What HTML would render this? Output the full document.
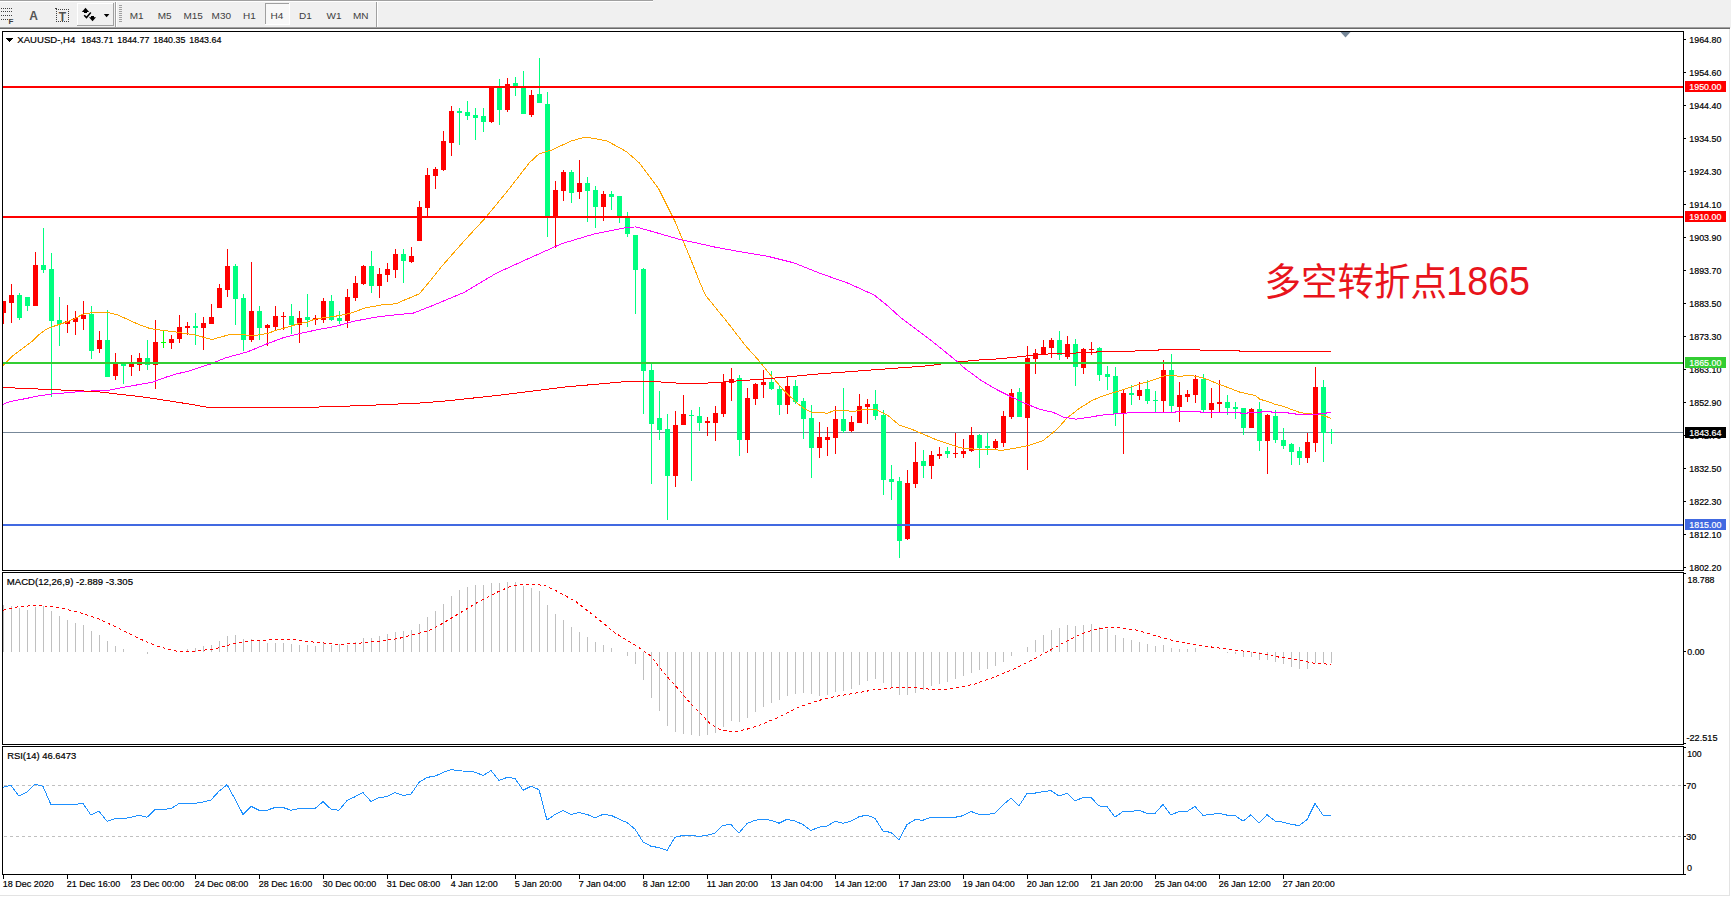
<!DOCTYPE html>
<html><head><meta charset="utf-8"><title>XAUUSD,H4</title>
<style>
html,body{margin:0;padding:0;background:#fff;}
body{width:1731px;height:897px;overflow:hidden;}
svg{display:block;}
text{font-family:'Liberation Sans', 'DejaVu Sans', sans-serif;}
</style></head>
<body>
<svg width="1731" height="897" viewBox="0 0 1731 897">
<rect x="0" y="0" width="1731" height="28" fill="#f0f0f0"/>
<rect x="0" y="0" width="653" height="1" fill="#a0a0a0"/>
<rect x="0" y="1" width="653" height="1" fill="#ffffff"/>
<rect x="0" y="27" width="1730" height="1" fill="#a0a0a0"/>
<rect x="0" y="28" width="1730" height="1" fill="#696969"/>
<rect x="1" y="8" width="1" height="1" fill="#404040"/>
<rect x="3" y="8" width="1" height="1" fill="#404040"/>
<rect x="5" y="8" width="1" height="1" fill="#404040"/>
<rect x="7" y="8" width="1" height="1" fill="#404040"/>
<rect x="9" y="8" width="1" height="1" fill="#404040"/>
<rect x="11" y="8" width="1" height="1" fill="#404040"/>
<rect x="1" y="11" width="1" height="1" fill="#404040"/>
<rect x="3" y="11" width="1" height="1" fill="#404040"/>
<rect x="5" y="11" width="1" height="1" fill="#404040"/>
<rect x="7" y="11" width="1" height="1" fill="#404040"/>
<rect x="9" y="11" width="1" height="1" fill="#404040"/>
<rect x="11" y="11" width="1" height="1" fill="#404040"/>
<rect x="1" y="15" width="1" height="1" fill="#404040"/>
<rect x="3" y="15" width="1" height="1" fill="#404040"/>
<rect x="5" y="15" width="1" height="1" fill="#404040"/>
<rect x="7" y="15" width="1" height="1" fill="#404040"/>
<rect x="9" y="15" width="1" height="1" fill="#404040"/>
<rect x="11" y="15" width="1" height="1" fill="#404040"/>
<rect x="1" y="19" width="1" height="1" fill="#404040"/>
<rect x="3" y="19" width="1" height="1" fill="#404040"/>
<rect x="5" y="19" width="1" height="1" fill="#404040"/>
<rect x="7" y="19" width="1" height="1" fill="#404040"/>
<text x="8.5" y="23.5" font-size="8" fill="#404040" text-anchor="start" font-weight="bold">F</text>
<text x="33.7" y="19.6" font-size="12" fill="#555555" text-anchor="middle" font-weight="bold">A</text>
<rect x="56" y="9" width="1" height="1" fill="#404040"/>
<rect x="56" y="21" width="1" height="1" fill="#404040"/>
<rect x="58" y="9" width="1" height="1" fill="#404040"/>
<rect x="58" y="21" width="1" height="1" fill="#404040"/>
<rect x="60" y="9" width="1" height="1" fill="#404040"/>
<rect x="60" y="21" width="1" height="1" fill="#404040"/>
<rect x="62" y="9" width="1" height="1" fill="#404040"/>
<rect x="62" y="21" width="1" height="1" fill="#404040"/>
<rect x="64" y="9" width="1" height="1" fill="#404040"/>
<rect x="64" y="21" width="1" height="1" fill="#404040"/>
<rect x="66" y="9" width="1" height="1" fill="#404040"/>
<rect x="66" y="21" width="1" height="1" fill="#404040"/>
<rect x="68" y="9" width="1" height="1" fill="#404040"/>
<rect x="68" y="21" width="1" height="1" fill="#404040"/>
<rect x="56" y="9" width="1" height="1" fill="#404040"/>
<rect x="68" y="9" width="1" height="1" fill="#404040"/>
<rect x="56" y="11" width="1" height="1" fill="#404040"/>
<rect x="68" y="11" width="1" height="1" fill="#404040"/>
<rect x="56" y="13" width="1" height="1" fill="#404040"/>
<rect x="68" y="13" width="1" height="1" fill="#404040"/>
<rect x="56" y="15" width="1" height="1" fill="#404040"/>
<rect x="68" y="15" width="1" height="1" fill="#404040"/>
<rect x="56" y="17" width="1" height="1" fill="#404040"/>
<rect x="68" y="17" width="1" height="1" fill="#404040"/>
<rect x="56" y="19" width="1" height="1" fill="#404040"/>
<rect x="68" y="19" width="1" height="1" fill="#404040"/>
<rect x="55" y="8" width="2" height="1" fill="#404040"/>
<text x="62.3" y="20.5" font-size="12" fill="#505050" text-anchor="middle" font-weight="bold">T</text>
<rect x="77" y="3" width="37" height="23" fill="#f0f0f0"/>
<rect x="77" y="3" width="36" height="1" fill="#ffffff"/>
<rect x="77" y="3" width="1" height="22" fill="#ffffff"/>
<rect x="77" y="25" width="37" height="1" fill="#a0a0a0"/>
<rect x="113" y="3" width="1" height="23" fill="#a0a0a0"/>
<path d="M81.8,12 L85.5,7.8 L89.2,12 Z" fill="#000"/>
<rect x="84" y="11" width="3" height="2" fill="#000"/>
<path d="M89,17.2 L96,17.2 L92.5,21.2 Z" fill="#000"/>
<rect x="91" y="16" width="3" height="2" fill="#000"/>
<path d="M84.2,15.2 L86.5,17.6 L90.8,12.4" fill="none" stroke="#000" stroke-width="1.5"/>
<path d="M103.8,14 L109.4,14 L106.6,17.2 Z" fill="#000"/>
<rect x="115" y="2" width="1" height="25" fill="#a0a0a0"/>
<rect x="116" y="2" width="1" height="25" fill="#ffffff"/>
<rect x="119" y="5" width="3" height="1" fill="#a0a0a0"/>
<rect x="119" y="7" width="3" height="1" fill="#a0a0a0"/>
<rect x="119" y="9" width="3" height="1" fill="#a0a0a0"/>
<rect x="119" y="11" width="3" height="1" fill="#a0a0a0"/>
<rect x="119" y="13" width="3" height="1" fill="#a0a0a0"/>
<rect x="119" y="15" width="3" height="1" fill="#a0a0a0"/>
<rect x="119" y="17" width="3" height="1" fill="#a0a0a0"/>
<rect x="119" y="19" width="3" height="1" fill="#a0a0a0"/>
<rect x="119" y="21" width="3" height="1" fill="#a0a0a0"/>
<rect x="376" y="2" width="1" height="25" fill="#a0a0a0"/>
<rect x="377" y="2" width="1" height="25" fill="#ffffff"/>
<rect x="265" y="3" width="25" height="22" fill="#f8f8f8"/>
<rect x="265" y="3" width="25" height="1" fill="#a0a0a0"/>
<rect x="265" y="3" width="1" height="22" fill="#a0a0a0"/>
<rect x="265" y="24" width="25" height="1" fill="#ffffff"/>
<rect x="289" y="3" width="1" height="22" fill="#ffffff"/>
<text x="136.70" y="19.3" font-size="9.5" fill="#404040" text-anchor="middle" textLength="13.89" lengthAdjust="spacingAndGlyphs">M1</text>
<text x="164.60" y="19.3" font-size="9.5" fill="#404040" text-anchor="middle" textLength="13.89" lengthAdjust="spacingAndGlyphs">M5</text>
<text x="193.20" y="19.3" font-size="9.5" fill="#404040" text-anchor="middle" textLength="19.45" lengthAdjust="spacingAndGlyphs">M15</text>
<text x="221.30" y="19.3" font-size="9.5" fill="#404040" text-anchor="middle" textLength="19.45" lengthAdjust="spacingAndGlyphs">M30</text>
<text x="249.40" y="19.3" font-size="9.5" fill="#404040" text-anchor="middle" textLength="12.78" lengthAdjust="spacingAndGlyphs">H1</text>
<text x="276.90" y="19.3" font-size="9.5" fill="#404040" text-anchor="middle" textLength="12.78" lengthAdjust="spacingAndGlyphs">H4</text>
<text x="305.40" y="19.3" font-size="9.5" fill="#404040" text-anchor="middle" textLength="12.78" lengthAdjust="spacingAndGlyphs">D1</text>
<text x="334.00" y="19.3" font-size="9.5" fill="#404040" text-anchor="middle" textLength="15.00" lengthAdjust="spacingAndGlyphs">W1</text>
<text x="360.80" y="19.3" font-size="9.5" fill="#404040" text-anchor="middle" textLength="15.55" lengthAdjust="spacingAndGlyphs">MN</text>
<rect x="0" y="29" width="1731" height="868" fill="#ffffff"/>
<rect x="1729" y="29" width="1" height="867" fill="#e3e3e3"/>
<rect x="0" y="895" width="1730" height="1" fill="#e3e3e3"/>
<rect x="2" y="31" width="1682" height="1" fill="#000"/>
<rect x="2" y="570" width="1682" height="1" fill="#000"/>
<rect x="2" y="31" width="1" height="540" fill="#000"/>
<rect x="1683" y="31" width="1" height="540" fill="#000"/>
<rect x="2" y="572" width="1682" height="1" fill="#000"/>
<rect x="2" y="744" width="1682" height="1" fill="#000"/>
<rect x="2" y="572" width="1" height="173" fill="#000"/>
<rect x="1683" y="572" width="1" height="173" fill="#000"/>
<rect x="2" y="746" width="1682" height="1" fill="#000"/>
<rect x="2" y="874" width="1682" height="1" fill="#000"/>
<rect x="2" y="746" width="1" height="129" fill="#000"/>
<rect x="1683" y="746" width="1" height="129" fill="#000"/>
<defs><clipPath id="cm"><rect x="3" y="32" width="1680" height="538"/></clipPath><clipPath id="cd"><rect x="3" y="573" width="1680" height="171"/></clipPath><clipPath id="cr"><rect x="3" y="747" width="1680" height="127"/></clipPath></defs>
<g clip-path="url(#cm)">
<rect x="3" y="432" width="1680" height="1" fill="#778899"/>
<g shape-rendering="crispEdges">
<rect x="3" y="301" width="1" height="23" fill="#ff0000"/>
<rect x="1" y="301" width="5" height="12" fill="#ff0000"/>
<rect x="11" y="284" width="1" height="39" fill="#ff0000"/>
<rect x="9" y="295" width="5" height="8" fill="#ff0000"/>
<rect x="19" y="293" width="1" height="27" fill="#00ff7f"/>
<rect x="17" y="295" width="5" height="23" fill="#00ff7f"/>
<rect x="27" y="297" width="1" height="14" fill="#00ff7f"/>
<rect x="25" y="297" width="5" height="9" fill="#00ff7f"/>
<rect x="35" y="252" width="1" height="54" fill="#ff0000"/>
<rect x="33" y="265" width="5" height="41" fill="#ff0000"/>
<rect x="43" y="228" width="1" height="45" fill="#00ff7f"/>
<rect x="41" y="265" width="5" height="5" fill="#00ff7f"/>
<rect x="51" y="253" width="1" height="144" fill="#00ff7f"/>
<rect x="49" y="269" width="5" height="52" fill="#00ff7f"/>
<rect x="59" y="297" width="1" height="49" fill="#00ff7f"/>
<rect x="57" y="320" width="5" height="4" fill="#00ff7f"/>
<rect x="67" y="305" width="1" height="28" fill="#ff0000"/>
<rect x="65" y="321" width="5" height="3" fill="#ff0000"/>
<rect x="75" y="311" width="1" height="24" fill="#ff0000"/>
<rect x="73" y="318" width="5" height="4" fill="#ff0000"/>
<rect x="83" y="301" width="1" height="29" fill="#ff0000"/>
<rect x="81" y="315" width="5" height="4" fill="#ff0000"/>
<rect x="91" y="306" width="1" height="53" fill="#00ff7f"/>
<rect x="89" y="314" width="5" height="37" fill="#00ff7f"/>
<rect x="99" y="331" width="1" height="22" fill="#ff0000"/>
<rect x="97" y="340" width="5" height="9" fill="#ff0000"/>
<rect x="107" y="310" width="1" height="67" fill="#00ff7f"/>
<rect x="105" y="340" width="5" height="37" fill="#00ff7f"/>
<rect x="115" y="353" width="1" height="27" fill="#ff0000"/>
<rect x="113" y="364" width="5" height="12" fill="#ff0000"/>
<rect x="123" y="363" width="1" height="21" fill="#00ff7f"/>
<rect x="121" y="364" width="5" height="2" fill="#00ff7f"/>
<rect x="131" y="355" width="1" height="21" fill="#ff0000"/>
<rect x="129" y="364" width="5" height="3" fill="#ff0000"/>
<rect x="139" y="353" width="1" height="18" fill="#ff0000"/>
<rect x="137" y="358" width="5" height="7" fill="#ff0000"/>
<rect x="147" y="340" width="1" height="30" fill="#00ff7f"/>
<rect x="145" y="358" width="5" height="7" fill="#00ff7f"/>
<rect x="155" y="320" width="1" height="69" fill="#ff0000"/>
<rect x="153" y="342" width="5" height="23" fill="#ff0000"/>
<rect x="163" y="330" width="1" height="18" fill="#00ff00"/>
<rect x="161" y="342" width="5" height="1" fill="#00ff00"/>
<rect x="171" y="335" width="1" height="14" fill="#ff0000"/>
<rect x="169" y="339" width="5" height="4" fill="#ff0000"/>
<rect x="179" y="315" width="1" height="28" fill="#ff0000"/>
<rect x="177" y="327" width="5" height="12" fill="#ff0000"/>
<rect x="187" y="322" width="1" height="13" fill="#ff0000"/>
<rect x="185" y="326" width="5" height="2" fill="#ff0000"/>
<rect x="195" y="313" width="1" height="32" fill="#00ff7f"/>
<rect x="193" y="326" width="5" height="2" fill="#00ff7f"/>
<rect x="203" y="317" width="1" height="33" fill="#ff0000"/>
<rect x="201" y="323" width="5" height="5" fill="#ff0000"/>
<rect x="211" y="304" width="1" height="20" fill="#ff0000"/>
<rect x="209" y="317" width="5" height="7" fill="#ff0000"/>
<rect x="219" y="284" width="1" height="24" fill="#ff0000"/>
<rect x="217" y="288" width="5" height="20" fill="#ff0000"/>
<rect x="227" y="249" width="1" height="48" fill="#ff0000"/>
<rect x="225" y="266" width="5" height="24" fill="#ff0000"/>
<rect x="235" y="264" width="1" height="61" fill="#00ff7f"/>
<rect x="233" y="266" width="5" height="33" fill="#00ff7f"/>
<rect x="243" y="294" width="1" height="57" fill="#00ff7f"/>
<rect x="241" y="298" width="5" height="42" fill="#00ff7f"/>
<rect x="251" y="262" width="1" height="80" fill="#ff0000"/>
<rect x="249" y="311" width="5" height="29" fill="#ff0000"/>
<rect x="259" y="306" width="1" height="34" fill="#00ff7f"/>
<rect x="257" y="311" width="5" height="17" fill="#00ff7f"/>
<rect x="267" y="324" width="1" height="22" fill="#ff0000"/>
<rect x="265" y="325" width="5" height="3" fill="#ff0000"/>
<rect x="275" y="306" width="1" height="24" fill="#ff0000"/>
<rect x="273" y="316" width="5" height="11" fill="#ff0000"/>
<rect x="283" y="312" width="1" height="18" fill="#ff0000"/>
<rect x="281" y="316" width="5" height="1" fill="#ff0000"/>
<rect x="291" y="304" width="1" height="30" fill="#00ff7f"/>
<rect x="289" y="316" width="5" height="9" fill="#00ff7f"/>
<rect x="299" y="311" width="1" height="32" fill="#ff0000"/>
<rect x="297" y="318" width="5" height="7" fill="#ff0000"/>
<rect x="307" y="294" width="1" height="33" fill="#00ff7f"/>
<rect x="305" y="317" width="5" height="3" fill="#00ff7f"/>
<rect x="315" y="315" width="1" height="10" fill="#ff0000"/>
<rect x="313" y="318" width="5" height="2" fill="#ff0000"/>
<rect x="323" y="298" width="1" height="25" fill="#ff0000"/>
<rect x="321" y="301" width="5" height="19" fill="#ff0000"/>
<rect x="331" y="295" width="1" height="26" fill="#00ff7f"/>
<rect x="329" y="301" width="5" height="19" fill="#00ff7f"/>
<rect x="339" y="311" width="1" height="13" fill="#00ff7f"/>
<rect x="337" y="318" width="5" height="3" fill="#00ff7f"/>
<rect x="347" y="289" width="1" height="39" fill="#ff0000"/>
<rect x="345" y="297" width="5" height="24" fill="#ff0000"/>
<rect x="355" y="276" width="1" height="25" fill="#ff0000"/>
<rect x="353" y="283" width="5" height="15" fill="#ff0000"/>
<rect x="363" y="265" width="1" height="20" fill="#ff0000"/>
<rect x="361" y="266" width="5" height="18" fill="#ff0000"/>
<rect x="371" y="251" width="1" height="42" fill="#00ff7f"/>
<rect x="369" y="266" width="5" height="20" fill="#00ff7f"/>
<rect x="379" y="268" width="1" height="30" fill="#ff0000"/>
<rect x="377" y="274" width="5" height="12" fill="#ff0000"/>
<rect x="387" y="263" width="1" height="19" fill="#ff0000"/>
<rect x="385" y="269" width="5" height="6" fill="#ff0000"/>
<rect x="395" y="249" width="1" height="29" fill="#ff0000"/>
<rect x="393" y="254" width="5" height="16" fill="#ff0000"/>
<rect x="403" y="249" width="1" height="34" fill="#00ff7f"/>
<rect x="401" y="254" width="5" height="7" fill="#00ff7f"/>
<rect x="411" y="247" width="1" height="16" fill="#ff0000"/>
<rect x="409" y="256" width="5" height="6" fill="#ff0000"/>
<rect x="419" y="201" width="1" height="40" fill="#ff0000"/>
<rect x="417" y="207" width="5" height="34" fill="#ff0000"/>
<rect x="427" y="168" width="1" height="50" fill="#ff0000"/>
<rect x="425" y="175" width="5" height="33" fill="#ff0000"/>
<rect x="435" y="167" width="1" height="22" fill="#ff0000"/>
<rect x="433" y="169" width="5" height="7" fill="#ff0000"/>
<rect x="443" y="131" width="1" height="40" fill="#ff0000"/>
<rect x="441" y="141" width="5" height="29" fill="#ff0000"/>
<rect x="451" y="106" width="1" height="50" fill="#ff0000"/>
<rect x="449" y="111" width="5" height="32" fill="#ff0000"/>
<rect x="459" y="108" width="1" height="37" fill="#00ff7f"/>
<rect x="457" y="111" width="5" height="2" fill="#00ff7f"/>
<rect x="467" y="101" width="1" height="19" fill="#00ff7f"/>
<rect x="465" y="112" width="5" height="4" fill="#00ff7f"/>
<rect x="475" y="108" width="1" height="32" fill="#00ff7f"/>
<rect x="473" y="115" width="5" height="3" fill="#00ff7f"/>
<rect x="483" y="108" width="1" height="24" fill="#00ff7f"/>
<rect x="481" y="116" width="5" height="6" fill="#00ff7f"/>
<rect x="491" y="86" width="1" height="37" fill="#ff0000"/>
<rect x="489" y="86" width="5" height="36" fill="#ff0000"/>
<rect x="499" y="79" width="1" height="46" fill="#00ff7f"/>
<rect x="497" y="88" width="5" height="22" fill="#00ff7f"/>
<rect x="507" y="78" width="1" height="34" fill="#ff0000"/>
<rect x="505" y="84" width="5" height="26" fill="#ff0000"/>
<rect x="515" y="77" width="1" height="19" fill="#00ff7f"/>
<rect x="513" y="83" width="5" height="3" fill="#00ff7f"/>
<rect x="523" y="71" width="1" height="43" fill="#00ff7f"/>
<rect x="521" y="86" width="5" height="28" fill="#00ff7f"/>
<rect x="531" y="90" width="1" height="27" fill="#ff0000"/>
<rect x="529" y="95" width="5" height="20" fill="#ff0000"/>
<rect x="539" y="58" width="1" height="45" fill="#00ff7f"/>
<rect x="537" y="94" width="5" height="9" fill="#00ff7f"/>
<rect x="547" y="92" width="1" height="145" fill="#00ff7f"/>
<rect x="545" y="104" width="5" height="114" fill="#00ff7f"/>
<rect x="555" y="181" width="1" height="67" fill="#ff0000"/>
<rect x="553" y="190" width="5" height="28" fill="#ff0000"/>
<rect x="563" y="170" width="1" height="31" fill="#ff0000"/>
<rect x="561" y="172" width="5" height="19" fill="#ff0000"/>
<rect x="571" y="170" width="1" height="33" fill="#00ff7f"/>
<rect x="569" y="172" width="5" height="21" fill="#00ff7f"/>
<rect x="579" y="160" width="1" height="39" fill="#ff0000"/>
<rect x="577" y="183" width="5" height="9" fill="#ff0000"/>
<rect x="587" y="177" width="1" height="45" fill="#00ff7f"/>
<rect x="585" y="183" width="5" height="8" fill="#00ff7f"/>
<rect x="595" y="186" width="1" height="42" fill="#00ff7f"/>
<rect x="593" y="190" width="5" height="17" fill="#00ff7f"/>
<rect x="603" y="191" width="1" height="30" fill="#ff0000"/>
<rect x="601" y="194" width="5" height="13" fill="#ff0000"/>
<rect x="611" y="191" width="1" height="19" fill="#00ff7f"/>
<rect x="609" y="194" width="5" height="3" fill="#00ff7f"/>
<rect x="619" y="196" width="1" height="27" fill="#00ff7f"/>
<rect x="617" y="196" width="5" height="20" fill="#00ff7f"/>
<rect x="627" y="212" width="1" height="25" fill="#00ff7f"/>
<rect x="625" y="218" width="5" height="16" fill="#00ff7f"/>
<rect x="635" y="235" width="1" height="79" fill="#00ff7f"/>
<rect x="633" y="235" width="5" height="35" fill="#00ff7f"/>
<rect x="643" y="268" width="1" height="146" fill="#00ff7f"/>
<rect x="641" y="269" width="5" height="102" fill="#00ff7f"/>
<rect x="651" y="364" width="1" height="120" fill="#00ff7f"/>
<rect x="649" y="370" width="5" height="54" fill="#00ff7f"/>
<rect x="659" y="391" width="1" height="49" fill="#00ff7f"/>
<rect x="657" y="418" width="5" height="12" fill="#00ff7f"/>
<rect x="667" y="414" width="1" height="106" fill="#00ff7f"/>
<rect x="665" y="429" width="5" height="47" fill="#00ff7f"/>
<rect x="675" y="411" width="1" height="76" fill="#ff0000"/>
<rect x="673" y="425" width="5" height="51" fill="#ff0000"/>
<rect x="683" y="395" width="1" height="30" fill="#ff0000"/>
<rect x="681" y="414" width="5" height="11" fill="#ff0000"/>
<rect x="691" y="410" width="1" height="71" fill="#00ff7f"/>
<rect x="689" y="415" width="5" height="1" fill="#00ff7f"/>
<rect x="699" y="407" width="1" height="24" fill="#00ff7f"/>
<rect x="697" y="416" width="5" height="7" fill="#00ff7f"/>
<rect x="707" y="417" width="1" height="19" fill="#ff0000"/>
<rect x="705" y="421" width="5" height="2" fill="#ff0000"/>
<rect x="715" y="406" width="1" height="35" fill="#ff0000"/>
<rect x="713" y="413" width="5" height="10" fill="#ff0000"/>
<rect x="723" y="374" width="1" height="43" fill="#ff0000"/>
<rect x="721" y="382" width="5" height="32" fill="#ff0000"/>
<rect x="731" y="368" width="1" height="33" fill="#ff0000"/>
<rect x="729" y="379" width="5" height="4" fill="#ff0000"/>
<rect x="739" y="375" width="1" height="81" fill="#00ff7f"/>
<rect x="737" y="378" width="5" height="62" fill="#00ff7f"/>
<rect x="747" y="388" width="1" height="65" fill="#ff0000"/>
<rect x="745" y="398" width="5" height="42" fill="#ff0000"/>
<rect x="755" y="383" width="1" height="22" fill="#ff0000"/>
<rect x="753" y="384" width="5" height="15" fill="#ff0000"/>
<rect x="763" y="370" width="1" height="28" fill="#ff0000"/>
<rect x="761" y="382" width="5" height="3" fill="#ff0000"/>
<rect x="771" y="371" width="1" height="19" fill="#00ff7f"/>
<rect x="769" y="382" width="5" height="7" fill="#00ff7f"/>
<rect x="779" y="386" width="1" height="29" fill="#00ff7f"/>
<rect x="777" y="389" width="5" height="16" fill="#00ff7f"/>
<rect x="787" y="376" width="1" height="38" fill="#ff0000"/>
<rect x="785" y="386" width="5" height="19" fill="#ff0000"/>
<rect x="795" y="380" width="1" height="24" fill="#00ff7f"/>
<rect x="793" y="386" width="5" height="16" fill="#00ff7f"/>
<rect x="803" y="398" width="1" height="41" fill="#00ff7f"/>
<rect x="801" y="401" width="5" height="18" fill="#00ff7f"/>
<rect x="811" y="405" width="1" height="73" fill="#00ff7f"/>
<rect x="809" y="418" width="5" height="30" fill="#00ff7f"/>
<rect x="819" y="422" width="1" height="36" fill="#ff0000"/>
<rect x="817" y="437" width="5" height="11" fill="#ff0000"/>
<rect x="827" y="427" width="1" height="29" fill="#ff0000"/>
<rect x="825" y="437" width="5" height="3" fill="#ff0000"/>
<rect x="835" y="406" width="1" height="48" fill="#ff0000"/>
<rect x="833" y="419" width="5" height="19" fill="#ff0000"/>
<rect x="843" y="388" width="1" height="45" fill="#00ff7f"/>
<rect x="841" y="419" width="5" height="12" fill="#00ff7f"/>
<rect x="851" y="416" width="1" height="16" fill="#ff0000"/>
<rect x="849" y="422" width="5" height="9" fill="#ff0000"/>
<rect x="859" y="394" width="1" height="29" fill="#ff0000"/>
<rect x="857" y="406" width="5" height="17" fill="#ff0000"/>
<rect x="867" y="399" width="1" height="25" fill="#ff0000"/>
<rect x="865" y="404" width="5" height="3" fill="#ff0000"/>
<rect x="875" y="390" width="1" height="30" fill="#00ff7f"/>
<rect x="873" y="404" width="5" height="12" fill="#00ff7f"/>
<rect x="883" y="410" width="1" height="85" fill="#00ff7f"/>
<rect x="881" y="415" width="5" height="65" fill="#00ff7f"/>
<rect x="891" y="465" width="1" height="35" fill="#00ff7f"/>
<rect x="889" y="479" width="5" height="3" fill="#00ff7f"/>
<rect x="899" y="477" width="1" height="81" fill="#00ff7f"/>
<rect x="897" y="481" width="5" height="60" fill="#00ff7f"/>
<rect x="907" y="470" width="1" height="70" fill="#ff0000"/>
<rect x="905" y="483" width="5" height="56" fill="#ff0000"/>
<rect x="915" y="442" width="1" height="46" fill="#ff0000"/>
<rect x="913" y="462" width="5" height="22" fill="#ff0000"/>
<rect x="923" y="450" width="1" height="28" fill="#00ff7f"/>
<rect x="921" y="461" width="5" height="5" fill="#00ff7f"/>
<rect x="931" y="451" width="1" height="28" fill="#ff0000"/>
<rect x="929" y="455" width="5" height="11" fill="#ff0000"/>
<rect x="939" y="447" width="1" height="12" fill="#ff0000"/>
<rect x="937" y="454" width="5" height="2" fill="#ff0000"/>
<rect x="947" y="447" width="1" height="11" fill="#00ff7f"/>
<rect x="945" y="451" width="5" height="3" fill="#00ff7f"/>
<rect x="955" y="433" width="1" height="25" fill="#ff0000"/>
<rect x="953" y="453" width="5" height="1" fill="#ff0000"/>
<rect x="963" y="439" width="1" height="19" fill="#ff0000"/>
<rect x="961" y="451" width="5" height="3" fill="#ff0000"/>
<rect x="971" y="427" width="1" height="25" fill="#ff0000"/>
<rect x="969" y="435" width="5" height="16" fill="#ff0000"/>
<rect x="979" y="434" width="1" height="34" fill="#00ff7f"/>
<rect x="977" y="435" width="5" height="13" fill="#00ff7f"/>
<rect x="987" y="433" width="1" height="22" fill="#00ff7f"/>
<rect x="985" y="446" width="5" height="2" fill="#00ff7f"/>
<rect x="995" y="439" width="1" height="11" fill="#ff0000"/>
<rect x="993" y="441" width="5" height="7" fill="#ff0000"/>
<rect x="1003" y="411" width="1" height="36" fill="#ff0000"/>
<rect x="1001" y="416" width="5" height="27" fill="#ff0000"/>
<rect x="1011" y="389" width="1" height="30" fill="#ff0000"/>
<rect x="1009" y="393" width="5" height="24" fill="#ff0000"/>
<rect x="1019" y="388" width="1" height="29" fill="#00ff7f"/>
<rect x="1017" y="392" width="5" height="25" fill="#00ff7f"/>
<rect x="1027" y="346" width="1" height="124" fill="#ff0000"/>
<rect x="1025" y="358" width="5" height="60" fill="#ff0000"/>
<rect x="1035" y="349" width="1" height="25" fill="#ff0000"/>
<rect x="1033" y="353" width="5" height="6" fill="#ff0000"/>
<rect x="1043" y="340" width="1" height="15" fill="#ff0000"/>
<rect x="1041" y="347" width="5" height="8" fill="#ff0000"/>
<rect x="1051" y="338" width="1" height="20" fill="#ff0000"/>
<rect x="1049" y="340" width="5" height="8" fill="#ff0000"/>
<rect x="1059" y="331" width="1" height="29" fill="#00ff7f"/>
<rect x="1057" y="340" width="5" height="15" fill="#00ff7f"/>
<rect x="1067" y="336" width="1" height="23" fill="#ff0000"/>
<rect x="1065" y="344" width="5" height="13" fill="#ff0000"/>
<rect x="1075" y="339" width="1" height="47" fill="#00ff7f"/>
<rect x="1073" y="344" width="5" height="23" fill="#00ff7f"/>
<rect x="1083" y="348" width="1" height="26" fill="#ff0000"/>
<rect x="1081" y="349" width="5" height="19" fill="#ff0000"/>
<rect x="1091" y="342" width="1" height="13" fill="#ff0000"/>
<rect x="1089" y="349" width="5" height="1" fill="#ff0000"/>
<rect x="1099" y="347" width="1" height="34" fill="#00ff7f"/>
<rect x="1097" y="348" width="5" height="27" fill="#00ff7f"/>
<rect x="1107" y="366" width="1" height="24" fill="#00ff7f"/>
<rect x="1105" y="374" width="5" height="3" fill="#00ff7f"/>
<rect x="1115" y="367" width="1" height="59" fill="#00ff7f"/>
<rect x="1113" y="376" width="5" height="38" fill="#00ff7f"/>
<rect x="1123" y="390" width="1" height="64" fill="#ff0000"/>
<rect x="1121" y="393" width="5" height="20" fill="#ff0000"/>
<rect x="1131" y="385" width="1" height="20" fill="#00ff7f"/>
<rect x="1129" y="393" width="5" height="2" fill="#00ff7f"/>
<rect x="1139" y="382" width="1" height="18" fill="#ff0000"/>
<rect x="1137" y="390" width="5" height="6" fill="#ff0000"/>
<rect x="1147" y="380" width="1" height="24" fill="#00ff7f"/>
<rect x="1145" y="389" width="5" height="12" fill="#00ff7f"/>
<rect x="1155" y="391" width="1" height="21" fill="#00ff7f"/>
<rect x="1153" y="400" width="5" height="1" fill="#00ff7f"/>
<rect x="1163" y="360" width="1" height="52" fill="#ff0000"/>
<rect x="1161" y="370" width="5" height="31" fill="#ff0000"/>
<rect x="1171" y="354" width="1" height="58" fill="#00ff7f"/>
<rect x="1169" y="370" width="5" height="36" fill="#00ff7f"/>
<rect x="1179" y="382" width="1" height="40" fill="#ff0000"/>
<rect x="1177" y="395" width="5" height="12" fill="#ff0000"/>
<rect x="1187" y="390" width="1" height="12" fill="#ff0000"/>
<rect x="1185" y="394" width="5" height="3" fill="#ff0000"/>
<rect x="1195" y="375" width="1" height="28" fill="#ff0000"/>
<rect x="1193" y="379" width="5" height="16" fill="#ff0000"/>
<rect x="1203" y="374" width="1" height="38" fill="#00ff7f"/>
<rect x="1201" y="379" width="5" height="31" fill="#00ff7f"/>
<rect x="1211" y="388" width="1" height="30" fill="#ff0000"/>
<rect x="1209" y="403" width="5" height="7" fill="#ff0000"/>
<rect x="1219" y="380" width="1" height="32" fill="#ff0000"/>
<rect x="1217" y="402" width="5" height="2" fill="#ff0000"/>
<rect x="1227" y="395" width="1" height="20" fill="#00ff7f"/>
<rect x="1225" y="402" width="5" height="6" fill="#00ff7f"/>
<rect x="1235" y="402" width="1" height="17" fill="#00ff7f"/>
<rect x="1233" y="407" width="5" height="2" fill="#00ff7f"/>
<rect x="1243" y="408" width="1" height="27" fill="#00ff7f"/>
<rect x="1241" y="408" width="5" height="20" fill="#00ff7f"/>
<rect x="1251" y="408" width="1" height="20" fill="#ff0000"/>
<rect x="1249" y="409" width="5" height="19" fill="#ff0000"/>
<rect x="1259" y="402" width="1" height="49" fill="#00ff7f"/>
<rect x="1257" y="409" width="5" height="32" fill="#00ff7f"/>
<rect x="1267" y="414" width="1" height="60" fill="#ff0000"/>
<rect x="1265" y="415" width="5" height="26" fill="#ff0000"/>
<rect x="1275" y="410" width="1" height="33" fill="#00ff7f"/>
<rect x="1273" y="416" width="5" height="24" fill="#00ff7f"/>
<rect x="1283" y="428" width="1" height="21" fill="#00ff7f"/>
<rect x="1281" y="440" width="5" height="6" fill="#00ff7f"/>
<rect x="1291" y="443" width="1" height="22" fill="#00ff7f"/>
<rect x="1289" y="444" width="5" height="8" fill="#00ff7f"/>
<rect x="1299" y="447" width="1" height="18" fill="#00ff7f"/>
<rect x="1297" y="451" width="5" height="7" fill="#00ff7f"/>
<rect x="1307" y="433" width="1" height="30" fill="#ff0000"/>
<rect x="1305" y="442" width="5" height="16" fill="#ff0000"/>
<rect x="1315" y="367" width="1" height="85" fill="#ff0000"/>
<rect x="1313" y="387" width="5" height="56" fill="#ff0000"/>
<rect x="1323" y="380" width="1" height="82" fill="#00ff7f"/>
<rect x="1321" y="387" width="5" height="46" fill="#00ff7f"/>
<rect x="1331" y="429" width="1" height="15" fill="#00ff7f"/>
<rect x="1329" y="432" width="5" height="1" fill="#00ff7f"/>
</g>
<polyline points="3,365.613 13.3,355.413 25.8,346.013 32,341.413 39,334.713 44.5,330.413 50.7,327.313 59.3,324.413 67.9,321.513 76.5,317.813 82,314.413 87.4,313.313 96,312.313 107,312.113 118,315.013 130,320.513 140,325.013 150,328.513 160,330.013 178,332.313 195,335.013 212,339.513 228,335.013 239,334.513 255,335.613 262,334.313 267,333.613 277,330.013 290,326.513 299.5,323.313 307.5,322.213 314,319.313 325,317.613 335,316.313 350.6,313.213 366,307.713 382,304.913 397.4,303.613 400,301.813 408.4,298.513 419.4,293.813 430,281.013 442,266.013 464.6,240.413 484,219.413 506.7,192.013 529.3,162.813 539,153.813 552,149.913 571.3,140.913 585.9,137.013 606.9,140.913 626.3,151.513 639.2,162.813 658.6,188.713 674.8,221.013 691,259.913 700,282.613 705.3,295.013 715,307.013 727,321.713 745.6,345.813 758.4,360.013 771.3,376.013 783.6,390.013 795.8,402.013 803.6,408.213 811.6,412.113 823.2,412.513 826.9,413.413 834.2,410.513 846.5,410.313 850.2,411.513 855.1,411.313 863.7,409.313 875.9,409.413 878,410.313 888.7,416.113 899.4,425.313 910.1,428.513 922.6,433.913 935.1,439.213 949.4,444.213 960,447.813 968,448.513 979.7,449.613 1003,450.113 1016.5,447.913 1029.9,445.113 1043.3,440.413 1048,436.613 1057.4,428.813 1066.7,418.313 1079.2,408.513 1091.7,400.713 1101,396.513 1113.6,392.613 1126,388.713 1137,385.113 1143,383.113 1149,381.313 1156,379.113 1162,376.613 1168,375.113 1175,375.613 1181,376.613 1185,375.313 1191,375.413 1197,376.613 1203,377.913 1209,380.113 1216,383.113 1227,387.213 1239.5,392.013 1255.6,395.613 1260,399.413 1264.6,400.513 1267.4,401.413 1270.6,402.413 1273,403.513 1275.7,404.513 1279.9,405.413 1283.1,406.513 1286.3,407.513 1289.1,408.513 1291.4,409.513 1294.7,410.413 1297,411.413 1299.7,412.513 1305.7,413.513 1318,414.513 1319.6,414.613 1322.4,415.513 1326,416.513 1328.9,417.513 1331,418.613" fill="none" stroke="#ffa500" stroke-width="1" shape-rendering="crispEdges"/>
<polyline points="3,404.313 10,401.513 21,399.513 30,397.713 40,395.613 48,394.613 55,393.613 71,392.513 79,391.513 95,390.813 108,390.513 125,387.013 152,382.313 165,377.513 175,374.313 189,371.013 212,363.513 225,358.013 247,352.013 255,348.813 267,343.813 283,337.813 299.5,333.613 317,329.813 335,326.513 354.5,321.113 379,316.613 400,314.413 413,313.213 432,305.813 464.6,292.213 497,272.813 529.3,258.213 561.7,243.713 594,234.013 626.3,227.513 636,226.913 658.6,233.313 680,239.513 700,243.713 713.5,246.813 734.9,250.813 767,256.113 793.8,262.813 820.5,273.513 847.3,282.913 874,294.913 887.4,305.613 900.8,317.713 927.6,337.713 954.3,359.113 965,368.513 981.1,380.513 996.4,389.413 1009.8,396.113 1019.9,401.113 1029.9,405.313 1039.9,409.413 1053,412.313 1063.6,417.113 1076,419.113 1088.6,417.413 1101,415.213 1113.6,414.013 1135,412.413 1175,412.413 1176,411.413 1200,411.413 1201,412.413 1240,412.413 1241,413.513 1247,413.513 1248,412.413 1260,412.513 1263,411.513 1271.8,411.513 1272,412.513 1288,412.513 1288.2,413.513 1295.8,413.513 1296,414.513 1318.7,414.513 1319,413.513 1326.8,413.513 1327,412.513 1331,412.513" fill="none" stroke="#ff00ff" stroke-width="1" shape-rendering="crispEdges"/>
<polyline points="3,387.513 24,388.413 48,389.413 72,390.513 96,391.513 112,393.413 139,396.413 160,399.513 189,404.013 209,407.513 247,407.313 319,407.013 362,405.613 420,403.013 449,400.713 507,394.313 564,387.113 622,381.913 651,381.313 660,381.913 686.8,383.713 694.8,383.713 713.5,382.713 767,378.713 820.5,373.813 874,369.813 927.6,365.813 954.3,362.313 983,359.613 1000,358.813 1023,356.313 1048,354.013 1087,352.613 1102.6,351.613 1135,351.213 1135.6,350.613 1158,350.613 1158.5,349.613 1200,349.613 1200.5,350.613 1239.5,350.613 1240,351.613 1331,351.613" fill="none" stroke="#ff0000" stroke-width="1" shape-rendering="crispEdges"/>
<rect x="3" y="86" width="1680" height="2" fill="#ff0000"/>
<rect x="3" y="216" width="1680" height="2" fill="#ff0000"/>
<rect x="3" y="362" width="1680" height="2" fill="#32cd32"/>
<rect x="3" y="524" width="1680" height="2" fill="#4169e1"/>
<path d="M1340.5,32 L1350.5,32 L1345.5,37.5 Z" fill="#778899"/>
</g>
<rect x="6" y="38" width="7" height="1" fill="#000"/>
<rect x="7" y="39" width="5" height="1" fill="#000"/>
<rect x="8" y="40" width="3" height="1" fill="#000"/>
<rect x="9" y="41" width="1" height="1" fill="#000"/>
<text x="17.30" y="43" font-size="9.5" fill="#000" stroke="#000" stroke-width="0.2" text-anchor="start" textLength="57.96" lengthAdjust="spacingAndGlyphs">XAUUSD-,H4</text>
<text x="81.30" y="43" font-size="9.5" fill="#000" stroke="#000" stroke-width="0.2" text-anchor="start" textLength="32.03" lengthAdjust="spacingAndGlyphs">1843.71</text>
<text x="117.30" y="43" font-size="9.5" fill="#000" stroke="#000" stroke-width="0.2" text-anchor="start" textLength="32.03" lengthAdjust="spacingAndGlyphs">1844.77</text>
<text x="153.30" y="43" font-size="9.5" fill="#000" stroke="#000" stroke-width="0.2" text-anchor="start" textLength="32.03" lengthAdjust="spacingAndGlyphs">1840.35</text>
<text x="189.30" y="43" font-size="9.5" fill="#000" stroke="#000" stroke-width="0.2" text-anchor="start" textLength="32.03" lengthAdjust="spacingAndGlyphs">1843.64</text>
<text x="1264.4" y="295" font-size="37.7" fill="#e8141c" textLength="182.5" lengthAdjust="spacingAndGlyphs" style="font-family:'Liberation Sans', 'Noto Sans CJK SC', sans-serif">多空转折点</text>
<text x="1446.3" y="294.8" font-size="41" fill="#e8141c" textLength="83.7" lengthAdjust="spacingAndGlyphs">1865</text>
<rect x="1684" y="39" width="2" height="1" fill="#000"/>
<text x="1689.30" y="43" font-size="9.5" fill="#000" stroke="#000" stroke-width="0.2" text-anchor="start" textLength="32.03" lengthAdjust="spacingAndGlyphs">1964.80</text>
<rect x="1684" y="72" width="2" height="1" fill="#000"/>
<text x="1689.30" y="76" font-size="9.5" fill="#000" stroke="#000" stroke-width="0.2" text-anchor="start" textLength="32.03" lengthAdjust="spacingAndGlyphs">1954.60</text>
<rect x="1684" y="105" width="2" height="1" fill="#000"/>
<text x="1689.30" y="109" font-size="9.5" fill="#000" stroke="#000" stroke-width="0.2" text-anchor="start" textLength="32.03" lengthAdjust="spacingAndGlyphs">1944.40</text>
<rect x="1684" y="138" width="2" height="1" fill="#000"/>
<text x="1689.30" y="142" font-size="9.5" fill="#000" stroke="#000" stroke-width="0.2" text-anchor="start" textLength="32.03" lengthAdjust="spacingAndGlyphs">1934.50</text>
<rect x="1684" y="171" width="2" height="1" fill="#000"/>
<text x="1689.30" y="175" font-size="9.5" fill="#000" stroke="#000" stroke-width="0.2" text-anchor="start" textLength="32.03" lengthAdjust="spacingAndGlyphs">1924.30</text>
<rect x="1684" y="204" width="2" height="1" fill="#000"/>
<text x="1689.30" y="208" font-size="9.5" fill="#000" stroke="#000" stroke-width="0.2" text-anchor="start" textLength="32.03" lengthAdjust="spacingAndGlyphs">1914.10</text>
<rect x="1684" y="237" width="2" height="1" fill="#000"/>
<text x="1689.30" y="241" font-size="9.5" fill="#000" stroke="#000" stroke-width="0.2" text-anchor="start" textLength="32.03" lengthAdjust="spacingAndGlyphs">1903.90</text>
<rect x="1684" y="270" width="2" height="1" fill="#000"/>
<text x="1689.30" y="274" font-size="9.5" fill="#000" stroke="#000" stroke-width="0.2" text-anchor="start" textLength="32.03" lengthAdjust="spacingAndGlyphs">1893.70</text>
<rect x="1684" y="303" width="2" height="1" fill="#000"/>
<text x="1689.30" y="307" font-size="9.5" fill="#000" stroke="#000" stroke-width="0.2" text-anchor="start" textLength="32.03" lengthAdjust="spacingAndGlyphs">1883.50</text>
<rect x="1684" y="336" width="2" height="1" fill="#000"/>
<text x="1689.30" y="340" font-size="9.5" fill="#000" stroke="#000" stroke-width="0.2" text-anchor="start" textLength="32.03" lengthAdjust="spacingAndGlyphs">1873.30</text>
<rect x="1684" y="369" width="2" height="1" fill="#000"/>
<text x="1689.30" y="373" font-size="9.5" fill="#000" stroke="#000" stroke-width="0.2" text-anchor="start" textLength="32.03" lengthAdjust="spacingAndGlyphs">1863.10</text>
<rect x="1684" y="402" width="2" height="1" fill="#000"/>
<text x="1689.30" y="406" font-size="9.5" fill="#000" stroke="#000" stroke-width="0.2" text-anchor="start" textLength="32.03" lengthAdjust="spacingAndGlyphs">1852.90</text>
<rect x="1684" y="435" width="2" height="1" fill="#000"/>
<text x="1689.30" y="439" font-size="9.5" fill="#000" stroke="#000" stroke-width="0.2" text-anchor="start" textLength="32.03" lengthAdjust="spacingAndGlyphs">1842.70</text>
<rect x="1684" y="468" width="2" height="1" fill="#000"/>
<text x="1689.30" y="472" font-size="9.5" fill="#000" stroke="#000" stroke-width="0.2" text-anchor="start" textLength="32.03" lengthAdjust="spacingAndGlyphs">1832.50</text>
<rect x="1684" y="501" width="2" height="1" fill="#000"/>
<text x="1689.30" y="505" font-size="9.5" fill="#000" stroke="#000" stroke-width="0.2" text-anchor="start" textLength="32.03" lengthAdjust="spacingAndGlyphs">1822.30</text>
<rect x="1684" y="534" width="2" height="1" fill="#000"/>
<text x="1689.30" y="538" font-size="9.5" fill="#000" stroke="#000" stroke-width="0.2" text-anchor="start" textLength="32.03" lengthAdjust="spacingAndGlyphs">1812.10</text>
<rect x="1684" y="567" width="2" height="1" fill="#000"/>
<text x="1689.30" y="571" font-size="9.5" fill="#000" stroke="#000" stroke-width="0.2" text-anchor="start" textLength="32.03" lengthAdjust="spacingAndGlyphs">1802.20</text>
<rect x="1685" y="81" width="41" height="11" fill="#ff0000"/>
<text x="1689.30" y="90" font-size="9.5" fill="#fff" stroke="#fff" stroke-width="0.2" text-anchor="start" textLength="32.03" lengthAdjust="spacingAndGlyphs">1950.00</text>
<rect x="1685" y="211" width="41" height="11" fill="#ff0000"/>
<text x="1689.30" y="220" font-size="9.5" fill="#fff" stroke="#fff" stroke-width="0.2" text-anchor="start" textLength="32.03" lengthAdjust="spacingAndGlyphs">1910.00</text>
<rect x="1685" y="357" width="41" height="11" fill="#32cd32"/>
<text x="1689.30" y="366" font-size="9.5" fill="#fff" stroke="#fff" stroke-width="0.2" text-anchor="start" textLength="32.03" lengthAdjust="spacingAndGlyphs">1865.00</text>
<rect x="1685" y="427" width="41" height="11" fill="#000"/>
<text x="1689.30" y="436" font-size="9.5" fill="#fff" stroke="#fff" stroke-width="0.2" text-anchor="start" textLength="32.03" lengthAdjust="spacingAndGlyphs">1843.64</text>
<rect x="1685" y="519" width="41" height="11" fill="#4169e1"/>
<text x="1689.30" y="528" font-size="9.5" fill="#fff" stroke="#fff" stroke-width="0.2" text-anchor="start" textLength="32.03" lengthAdjust="spacingAndGlyphs">1815.00</text>
<g clip-path="url(#cd)">
<g shape-rendering="crispEdges">
<rect x="3" y="605" width="1" height="47" fill="#c0c0c0"/>
<rect x="11" y="606" width="1" height="46" fill="#c0c0c0"/>
<rect x="19" y="608" width="1" height="44" fill="#c0c0c0"/>
<rect x="27" y="610" width="1" height="42" fill="#c0c0c0"/>
<rect x="35" y="607" width="1" height="45" fill="#c0c0c0"/>
<rect x="43" y="606" width="1" height="46" fill="#c0c0c0"/>
<rect x="51" y="611" width="1" height="41" fill="#c0c0c0"/>
<rect x="59" y="616" width="1" height="36" fill="#c0c0c0"/>
<rect x="67" y="620" width="1" height="32" fill="#c0c0c0"/>
<rect x="75" y="623" width="1" height="29" fill="#c0c0c0"/>
<rect x="83" y="625" width="1" height="27" fill="#c0c0c0"/>
<rect x="91" y="631" width="1" height="21" fill="#c0c0c0"/>
<rect x="99" y="635" width="1" height="17" fill="#c0c0c0"/>
<rect x="107" y="641" width="1" height="11" fill="#c0c0c0"/>
<rect x="115" y="646" width="1" height="6" fill="#c0c0c0"/>
<rect x="123" y="649" width="1" height="3" fill="#c0c0c0"/>
<rect x="147" y="652" width="1" height="2" fill="#c0c0c0"/>
<rect x="187" y="649" width="1" height="3" fill="#c0c0c0"/>
<rect x="195" y="648" width="1" height="4" fill="#c0c0c0"/>
<rect x="203" y="646" width="1" height="6" fill="#c0c0c0"/>
<rect x="211" y="645" width="1" height="7" fill="#c0c0c0"/>
<rect x="219" y="641" width="1" height="11" fill="#c0c0c0"/>
<rect x="227" y="636" width="1" height="16" fill="#c0c0c0"/>
<rect x="235" y="635" width="1" height="17" fill="#c0c0c0"/>
<rect x="243" y="639" width="1" height="13" fill="#c0c0c0"/>
<rect x="251" y="639" width="1" height="13" fill="#c0c0c0"/>
<rect x="259" y="641" width="1" height="11" fill="#c0c0c0"/>
<rect x="267" y="643" width="1" height="9" fill="#c0c0c0"/>
<rect x="275" y="643" width="1" height="9" fill="#c0c0c0"/>
<rect x="283" y="643" width="1" height="9" fill="#c0c0c0"/>
<rect x="291" y="644" width="1" height="8" fill="#c0c0c0"/>
<rect x="299" y="645" width="1" height="7" fill="#c0c0c0"/>
<rect x="307" y="645" width="1" height="7" fill="#c0c0c0"/>
<rect x="315" y="646" width="1" height="6" fill="#c0c0c0"/>
<rect x="323" y="643" width="1" height="9" fill="#c0c0c0"/>
<rect x="331" y="645" width="1" height="7" fill="#c0c0c0"/>
<rect x="339" y="644" width="1" height="8" fill="#c0c0c0"/>
<rect x="347" y="645" width="1" height="7" fill="#c0c0c0"/>
<rect x="355" y="642" width="1" height="10" fill="#c0c0c0"/>
<rect x="363" y="638" width="1" height="14" fill="#c0c0c0"/>
<rect x="371" y="638" width="1" height="14" fill="#c0c0c0"/>
<rect x="379" y="636" width="1" height="16" fill="#c0c0c0"/>
<rect x="387" y="634" width="1" height="18" fill="#c0c0c0"/>
<rect x="395" y="632" width="1" height="20" fill="#c0c0c0"/>
<rect x="403" y="631" width="1" height="21" fill="#c0c0c0"/>
<rect x="411" y="630" width="1" height="22" fill="#c0c0c0"/>
<rect x="419" y="624" width="1" height="28" fill="#c0c0c0"/>
<rect x="427" y="617" width="1" height="35" fill="#c0c0c0"/>
<rect x="435" y="611" width="1" height="41" fill="#c0c0c0"/>
<rect x="443" y="604" width="1" height="48" fill="#c0c0c0"/>
<rect x="451" y="596" width="1" height="56" fill="#c0c0c0"/>
<rect x="459" y="590" width="1" height="62" fill="#c0c0c0"/>
<rect x="467" y="587" width="1" height="65" fill="#c0c0c0"/>
<rect x="475" y="585" width="1" height="67" fill="#c0c0c0"/>
<rect x="483" y="585" width="1" height="67" fill="#c0c0c0"/>
<rect x="491" y="583" width="1" height="69" fill="#c0c0c0"/>
<rect x="499" y="583" width="1" height="69" fill="#c0c0c0"/>
<rect x="507" y="582" width="1" height="70" fill="#c0c0c0"/>
<rect x="515" y="582" width="1" height="70" fill="#c0c0c0"/>
<rect x="523" y="586" width="1" height="66" fill="#c0c0c0"/>
<rect x="531" y="588" width="1" height="64" fill="#c0c0c0"/>
<rect x="539" y="591" width="1" height="61" fill="#c0c0c0"/>
<rect x="547" y="605" width="1" height="47" fill="#c0c0c0"/>
<rect x="555" y="614" width="1" height="38" fill="#c0c0c0"/>
<rect x="563" y="620" width="1" height="32" fill="#c0c0c0"/>
<rect x="571" y="627" width="1" height="25" fill="#c0c0c0"/>
<rect x="579" y="632" width="1" height="20" fill="#c0c0c0"/>
<rect x="587" y="637" width="1" height="15" fill="#c0c0c0"/>
<rect x="595" y="642" width="1" height="10" fill="#c0c0c0"/>
<rect x="603" y="645" width="1" height="7" fill="#c0c0c0"/>
<rect x="611" y="648" width="1" height="4" fill="#c0c0c0"/>
<rect x="627" y="652" width="1" height="4" fill="#c0c0c0"/>
<rect x="635" y="652" width="1" height="12" fill="#c0c0c0"/>
<rect x="643" y="652" width="1" height="28" fill="#c0c0c0"/>
<rect x="651" y="652" width="1" height="46" fill="#c0c0c0"/>
<rect x="659" y="652" width="1" height="59" fill="#c0c0c0"/>
<rect x="667" y="652" width="1" height="74" fill="#c0c0c0"/>
<rect x="675" y="652" width="1" height="80" fill="#c0c0c0"/>
<rect x="683" y="652" width="1" height="82" fill="#c0c0c0"/>
<rect x="691" y="652" width="1" height="83" fill="#c0c0c0"/>
<rect x="699" y="652" width="1" height="84" fill="#c0c0c0"/>
<rect x="707" y="652" width="1" height="83" fill="#c0c0c0"/>
<rect x="715" y="652" width="1" height="81" fill="#c0c0c0"/>
<rect x="723" y="652" width="1" height="75" fill="#c0c0c0"/>
<rect x="731" y="652" width="1" height="69" fill="#c0c0c0"/>
<rect x="739" y="652" width="1" height="70" fill="#c0c0c0"/>
<rect x="747" y="652" width="1" height="66" fill="#c0c0c0"/>
<rect x="755" y="652" width="1" height="60" fill="#c0c0c0"/>
<rect x="763" y="652" width="1" height="55" fill="#c0c0c0"/>
<rect x="771" y="652" width="1" height="51" fill="#c0c0c0"/>
<rect x="779" y="652" width="1" height="48" fill="#c0c0c0"/>
<rect x="787" y="652" width="1" height="44" fill="#c0c0c0"/>
<rect x="795" y="652" width="1" height="42" fill="#c0c0c0"/>
<rect x="803" y="652" width="1" height="41" fill="#c0c0c0"/>
<rect x="811" y="652" width="1" height="42" fill="#c0c0c0"/>
<rect x="819" y="652" width="1" height="44" fill="#c0c0c0"/>
<rect x="827" y="652" width="1" height="43" fill="#c0c0c0"/>
<rect x="835" y="652" width="1" height="40" fill="#c0c0c0"/>
<rect x="843" y="652" width="1" height="39" fill="#c0c0c0"/>
<rect x="851" y="652" width="1" height="37" fill="#c0c0c0"/>
<rect x="859" y="652" width="1" height="33" fill="#c0c0c0"/>
<rect x="867" y="652" width="1" height="29" fill="#c0c0c0"/>
<rect x="875" y="652" width="1" height="27" fill="#c0c0c0"/>
<rect x="883" y="652" width="1" height="31" fill="#c0c0c0"/>
<rect x="891" y="652" width="1" height="36" fill="#c0c0c0"/>
<rect x="899" y="652" width="1" height="43" fill="#c0c0c0"/>
<rect x="907" y="652" width="1" height="43" fill="#c0c0c0"/>
<rect x="915" y="652" width="1" height="41" fill="#c0c0c0"/>
<rect x="923" y="652" width="1" height="38" fill="#c0c0c0"/>
<rect x="931" y="652" width="1" height="34" fill="#c0c0c0"/>
<rect x="939" y="652" width="1" height="32" fill="#c0c0c0"/>
<rect x="947" y="652" width="1" height="30" fill="#c0c0c0"/>
<rect x="955" y="652" width="1" height="27" fill="#c0c0c0"/>
<rect x="963" y="652" width="1" height="24" fill="#c0c0c0"/>
<rect x="971" y="652" width="1" height="21" fill="#c0c0c0"/>
<rect x="979" y="652" width="1" height="18" fill="#c0c0c0"/>
<rect x="987" y="652" width="1" height="17" fill="#c0c0c0"/>
<rect x="995" y="652" width="1" height="14" fill="#c0c0c0"/>
<rect x="1003" y="652" width="1" height="10" fill="#c0c0c0"/>
<rect x="1011" y="652" width="1" height="4" fill="#c0c0c0"/>
<rect x="1027" y="647" width="1" height="5" fill="#c0c0c0"/>
<rect x="1035" y="640" width="1" height="12" fill="#c0c0c0"/>
<rect x="1043" y="635" width="1" height="17" fill="#c0c0c0"/>
<rect x="1051" y="630" width="1" height="22" fill="#c0c0c0"/>
<rect x="1059" y="628" width="1" height="24" fill="#c0c0c0"/>
<rect x="1067" y="625" width="1" height="27" fill="#c0c0c0"/>
<rect x="1075" y="626" width="1" height="26" fill="#c0c0c0"/>
<rect x="1083" y="625" width="1" height="27" fill="#c0c0c0"/>
<rect x="1091" y="624" width="1" height="28" fill="#c0c0c0"/>
<rect x="1099" y="627" width="1" height="25" fill="#c0c0c0"/>
<rect x="1107" y="629" width="1" height="23" fill="#c0c0c0"/>
<rect x="1115" y="635" width="1" height="17" fill="#c0c0c0"/>
<rect x="1123" y="638" width="1" height="14" fill="#c0c0c0"/>
<rect x="1131" y="640" width="1" height="12" fill="#c0c0c0"/>
<rect x="1139" y="642" width="1" height="10" fill="#c0c0c0"/>
<rect x="1147" y="644" width="1" height="8" fill="#c0c0c0"/>
<rect x="1155" y="646" width="1" height="6" fill="#c0c0c0"/>
<rect x="1163" y="645" width="1" height="7" fill="#c0c0c0"/>
<rect x="1171" y="648" width="1" height="4" fill="#c0c0c0"/>
<rect x="1179" y="649" width="1" height="3" fill="#c0c0c0"/>
<rect x="1187" y="649" width="1" height="3" fill="#c0c0c0"/>
<rect x="1195" y="648" width="1" height="4" fill="#c0c0c0"/>
<rect x="1227" y="652" width="1" height="1" fill="#c0c0c0"/>
<rect x="1235" y="652" width="1" height="2" fill="#c0c0c0"/>
<rect x="1243" y="652" width="1" height="5" fill="#c0c0c0"/>
<rect x="1251" y="652" width="1" height="5" fill="#c0c0c0"/>
<rect x="1259" y="652" width="1" height="8" fill="#c0c0c0"/>
<rect x="1267" y="652" width="1" height="8" fill="#c0c0c0"/>
<rect x="1275" y="652" width="1" height="10" fill="#c0c0c0"/>
<rect x="1283" y="652" width="1" height="12" fill="#c0c0c0"/>
<rect x="1291" y="652" width="1" height="15" fill="#c0c0c0"/>
<rect x="1299" y="652" width="1" height="17" fill="#c0c0c0"/>
<rect x="1307" y="652" width="1" height="17" fill="#c0c0c0"/>
<rect x="1315" y="652" width="1" height="11" fill="#c0c0c0"/>
<rect x="1323" y="652" width="1" height="11" fill="#c0c0c0"/>
<rect x="1331" y="652" width="1" height="11" fill="#c0c0c0"/>
</g>
<polyline points="3,610.313 19.6,606.413 39.3,605.413 58.9,607.413 78.6,612.313 98.2,618.713 117.9,628.013 137.5,637.813 157.1,646.213 176.8,651.213 196.4,651.213 216,648.613 235.7,643.313 255.4,640.413 275,639.813 294.6,639.813 314.3,642.113 340,644.413 359.6,643.113 379.3,641.113 398.9,638.413 418.6,633.313 428.4,630.913 438.2,626.013 457.9,614.213 477.5,602.413 497.1,592.213 512.9,585.413 526.6,584.413 544.3,585.213 556.1,590.713 575.7,601.513 595.4,616.813 615,632.913 634.6,644.713 650.4,655.513 664.1,673.213 680,691.013 689.8,702.613 699.6,712.413 709.5,723.213 719.3,729.113 729.1,731.513 738.9,731.113 748.7,728.713 758.6,725.613 778.2,717.413 797.9,707.513 817.5,700.713 837.1,696.113 856.8,692.813 876.4,689.513 896.1,687.513 915.7,687.513 923.6,688.913 943.2,689.313 955,688.313 974.6,684.013 994.3,677.113 1013.9,669.013 1029.6,661.413 1049.3,650.613 1068.9,639.813 1082.7,633.313 1088.6,631.313 1098.4,629.013 1108.2,627.613 1120,627.613 1137.7,630.313 1147.5,633.313 1159.3,636.813 1177,641.713 1196.6,645.113 1216.2,647.613 1235.9,650.213 1255.5,652.513 1275.2,656.513 1294.8,659.413 1314.5,663.313 1331,664.313" fill="none" stroke="#ff0000" stroke-width="1" shape-rendering="crispEdges" stroke-dasharray="3,3"/>
</g>
<text x="6.80" y="585" font-size="9.5" fill="#000" stroke="#000" stroke-width="0.2" text-anchor="start" textLength="126.20" lengthAdjust="spacingAndGlyphs">MACD(12,26,9) -2.889 -3.305</text>
<rect x="1684" y="573" width="2" height="1" fill="#000"/>
<rect x="1684" y="651" width="2" height="1" fill="#000"/>
<rect x="1684" y="743" width="2" height="1" fill="#000"/>
<text x="1687.50" y="583" font-size="9.5" fill="#000" stroke="#000" stroke-width="0.2" text-anchor="start" textLength="27.01" lengthAdjust="spacingAndGlyphs">18.788</text>
<text x="1687.30" y="655" font-size="9.5" fill="#000" stroke="#000" stroke-width="0.2" text-anchor="start" textLength="17.24" lengthAdjust="spacingAndGlyphs">0.00</text>
<text x="1686.50" y="741" font-size="9.5" fill="#000" stroke="#000" stroke-width="0.2" text-anchor="start" textLength="30.97" lengthAdjust="spacingAndGlyphs">-22.515</text>
<g clip-path="url(#cr)">
<line x1="4" y1="785.5" x2="1683" y2="785.5" stroke="#c0c0c0" stroke-width="1" stroke-dasharray="3,3"/>
<line x1="4" y1="836.5" x2="1683" y2="836.5" stroke="#c0c0c0" stroke-width="1" stroke-dasharray="3,3"/>
<polyline points="3,787.213 11,785.313 19,796.113 27,792.213 35,784.313 43,786.313 51,804.913 59,804.913 67,804.913 75,804.313 83,803.413 91,815.113 99,811.213 107,821.213 115,818.713 123,818.713 131,817.313 139,815.313 147,817.313 155,809.413 163,809.413 171,808.513 179,803.613 187,803.413 195,803.413 203,802.013 211,800.013 219,791.213 227,784.713 235,799.013 243,814.413 251,806.313 259,810.213 267,810.213 275,807.513 283,807.513 291,810.213 299,808.513 307,808.513 315,808.513 323,801.613 331,809.213 339,810.213 347,800.613 355,796.713 363,792.613 371,801.413 379,797.713 387,796.513 395,792.613 403,795.513 411,794.113 419,782.313 427,777.413 435,776.113 443,772.513 451,769.613 459,770.613 467,771.513 475,772.113 483,775.513 491,770.613 499,780.413 507,777.413 515,778.413 523,790.213 531,786.313 539,789.613 547,820.213 555,814.413 563,810.413 571,814.413 579,812.413 587,814.413 595,817.713 603,814.413 611,815.313 619,819.113 627,822.613 635,829.113 643,841.913 651,846.213 659,847.613 667,850.513 675,837.313 683,835.413 691,835.413 699,836.413 707,835.413 715,833.013 723,825.213 731,824.613 739,833.013 747,823.613 755,820.213 763,819.313 771,820.213 779,823.213 787,819.313 795,821.013 803,824.613 811,830.513 819,827.113 827,826.113 835,821.213 843,823.213 851,821.213 859,816.713 867,815.113 875,818.313 883,831.113 891,832.413 899,839.913 907,824.613 915,819.713 923,820.213 931,817.313 939,817.313 947,817.313 955,817.313 963,815.713 971,811.413 979,814.413 987,814.413 995,813.213 1003,804.913 1011,798.213 1019,805.913 1027,793.513 1035,793.113 1043,791.613 1051,790.613 1059,796.113 1067,793.113 1075,801.013 1083,797.513 1091,797.513 1099,805.913 1107,806.513 1115,817.113 1123,811.413 1131,811.413 1139,810.213 1147,813.413 1155,813.413 1163,804.313 1171,815.113 1179,811.413 1187,811.413 1195,806.513 1203,815.313 1211,814.413 1219,813.413 1227,815.113 1235,815.313 1243,821.213 1251,814.713 1259,823.213 1267,814.713 1275,821.013 1283,822.213 1291,824.213 1299,825.613 1307,819.713 1315,803.413 1323,815.113 1331,815.113" fill="none" stroke="#1e90ff" stroke-width="1" shape-rendering="crispEdges"/>
</g>
<text x="7.20" y="759" font-size="9.5" fill="#000" stroke="#000" stroke-width="0.2" text-anchor="start" textLength="68.98" lengthAdjust="spacingAndGlyphs">RSI(14) 46.6473</text>
<rect x="1684" y="747" width="2" height="1" fill="#000"/>
<rect x="1684" y="785" width="2" height="1" fill="#000"/>
<rect x="1684" y="836" width="2" height="1" fill="#000"/>
<rect x="1684" y="874" width="2" height="1" fill="#000"/>
<text x="1687.20" y="757" font-size="9.5" fill="#000" stroke="#000" stroke-width="0.2" text-anchor="start" textLength="14.50" lengthAdjust="spacingAndGlyphs">100</text>
<text x="1686.20" y="789" font-size="9.5" fill="#000" stroke="#000" stroke-width="0.2" text-anchor="start" textLength="10.00" lengthAdjust="spacingAndGlyphs">70</text>
<text x="1686.20" y="840" font-size="9.5" fill="#000" stroke="#000" stroke-width="0.2" text-anchor="start" textLength="10.00" lengthAdjust="spacingAndGlyphs">30</text>
<text x="1687.00" y="871" font-size="9.5" fill="#000" stroke="#000" stroke-width="0.2" text-anchor="start" textLength="5.00" lengthAdjust="spacingAndGlyphs">0</text>
<rect x="3" y="875" width="1" height="4" fill="#000"/>
<text x="2.70" y="887" font-size="9.5" fill="#000" stroke="#000" stroke-width="0.2" text-anchor="start" textLength="51.04" lengthAdjust="spacingAndGlyphs">18 Dec 2020</text>
<rect x="67" y="875" width="1" height="4" fill="#000"/>
<text x="66.70" y="887" font-size="9.5" fill="#000" stroke="#000" stroke-width="0.2" text-anchor="start" textLength="53.54" lengthAdjust="spacingAndGlyphs">21 Dec 16:00</text>
<rect x="131" y="875" width="1" height="4" fill="#000"/>
<text x="130.70" y="887" font-size="9.5" fill="#000" stroke="#000" stroke-width="0.2" text-anchor="start" textLength="53.54" lengthAdjust="spacingAndGlyphs">23 Dec 00:00</text>
<rect x="195" y="875" width="1" height="4" fill="#000"/>
<text x="194.70" y="887" font-size="9.5" fill="#000" stroke="#000" stroke-width="0.2" text-anchor="start" textLength="53.54" lengthAdjust="spacingAndGlyphs">24 Dec 08:00</text>
<rect x="259" y="875" width="1" height="4" fill="#000"/>
<text x="258.70" y="887" font-size="9.5" fill="#000" stroke="#000" stroke-width="0.2" text-anchor="start" textLength="53.54" lengthAdjust="spacingAndGlyphs">28 Dec 16:00</text>
<rect x="323" y="875" width="1" height="4" fill="#000"/>
<text x="322.70" y="887" font-size="9.5" fill="#000" stroke="#000" stroke-width="0.2" text-anchor="start" textLength="53.54" lengthAdjust="spacingAndGlyphs">30 Dec 00:00</text>
<rect x="387" y="875" width="1" height="4" fill="#000"/>
<text x="386.70" y="887" font-size="9.5" fill="#000" stroke="#000" stroke-width="0.2" text-anchor="start" textLength="53.54" lengthAdjust="spacingAndGlyphs">31 Dec 08:00</text>
<rect x="451" y="875" width="1" height="4" fill="#000"/>
<text x="450.70" y="887" font-size="9.5" fill="#000" stroke="#000" stroke-width="0.2" text-anchor="start" textLength="47.04" lengthAdjust="spacingAndGlyphs">4 Jan 12:00</text>
<rect x="515" y="875" width="1" height="4" fill="#000"/>
<text x="514.70" y="887" font-size="9.5" fill="#000" stroke="#000" stroke-width="0.2" text-anchor="start" textLength="47.04" lengthAdjust="spacingAndGlyphs">5 Jan 20:00</text>
<rect x="579" y="875" width="1" height="4" fill="#000"/>
<text x="578.70" y="887" font-size="9.5" fill="#000" stroke="#000" stroke-width="0.2" text-anchor="start" textLength="47.04" lengthAdjust="spacingAndGlyphs">7 Jan 04:00</text>
<rect x="643" y="875" width="1" height="4" fill="#000"/>
<text x="642.70" y="887" font-size="9.5" fill="#000" stroke="#000" stroke-width="0.2" text-anchor="start" textLength="47.04" lengthAdjust="spacingAndGlyphs">8 Jan 12:00</text>
<rect x="707" y="875" width="1" height="4" fill="#000"/>
<text x="706.70" y="887" font-size="9.5" fill="#000" stroke="#000" stroke-width="0.2" text-anchor="start" textLength="51.38" lengthAdjust="spacingAndGlyphs">11 Jan 20:00</text>
<rect x="771" y="875" width="1" height="4" fill="#000"/>
<text x="770.70" y="887" font-size="9.5" fill="#000" stroke="#000" stroke-width="0.2" text-anchor="start" textLength="52.04" lengthAdjust="spacingAndGlyphs">13 Jan 04:00</text>
<rect x="835" y="875" width="1" height="4" fill="#000"/>
<text x="834.70" y="887" font-size="9.5" fill="#000" stroke="#000" stroke-width="0.2" text-anchor="start" textLength="52.04" lengthAdjust="spacingAndGlyphs">14 Jan 12:00</text>
<rect x="899" y="875" width="1" height="4" fill="#000"/>
<text x="898.70" y="887" font-size="9.5" fill="#000" stroke="#000" stroke-width="0.2" text-anchor="start" textLength="52.04" lengthAdjust="spacingAndGlyphs">17 Jan 23:00</text>
<rect x="963" y="875" width="1" height="4" fill="#000"/>
<text x="962.70" y="887" font-size="9.5" fill="#000" stroke="#000" stroke-width="0.2" text-anchor="start" textLength="52.04" lengthAdjust="spacingAndGlyphs">19 Jan 04:00</text>
<rect x="1027" y="875" width="1" height="4" fill="#000"/>
<text x="1026.70" y="887" font-size="9.5" fill="#000" stroke="#000" stroke-width="0.2" text-anchor="start" textLength="52.04" lengthAdjust="spacingAndGlyphs">20 Jan 12:00</text>
<rect x="1091" y="875" width="1" height="4" fill="#000"/>
<text x="1090.70" y="887" font-size="9.5" fill="#000" stroke="#000" stroke-width="0.2" text-anchor="start" textLength="52.04" lengthAdjust="spacingAndGlyphs">21 Jan 20:00</text>
<rect x="1155" y="875" width="1" height="4" fill="#000"/>
<text x="1154.70" y="887" font-size="9.5" fill="#000" stroke="#000" stroke-width="0.2" text-anchor="start" textLength="52.04" lengthAdjust="spacingAndGlyphs">25 Jan 04:00</text>
<rect x="1219" y="875" width="1" height="4" fill="#000"/>
<text x="1218.70" y="887" font-size="9.5" fill="#000" stroke="#000" stroke-width="0.2" text-anchor="start" textLength="52.04" lengthAdjust="spacingAndGlyphs">26 Jan 12:00</text>
<rect x="1283" y="875" width="1" height="4" fill="#000"/>
<text x="1282.70" y="887" font-size="9.5" fill="#000" stroke="#000" stroke-width="0.2" text-anchor="start" textLength="52.04" lengthAdjust="spacingAndGlyphs">27 Jan 20:00</text>
</svg>
</body></html>
